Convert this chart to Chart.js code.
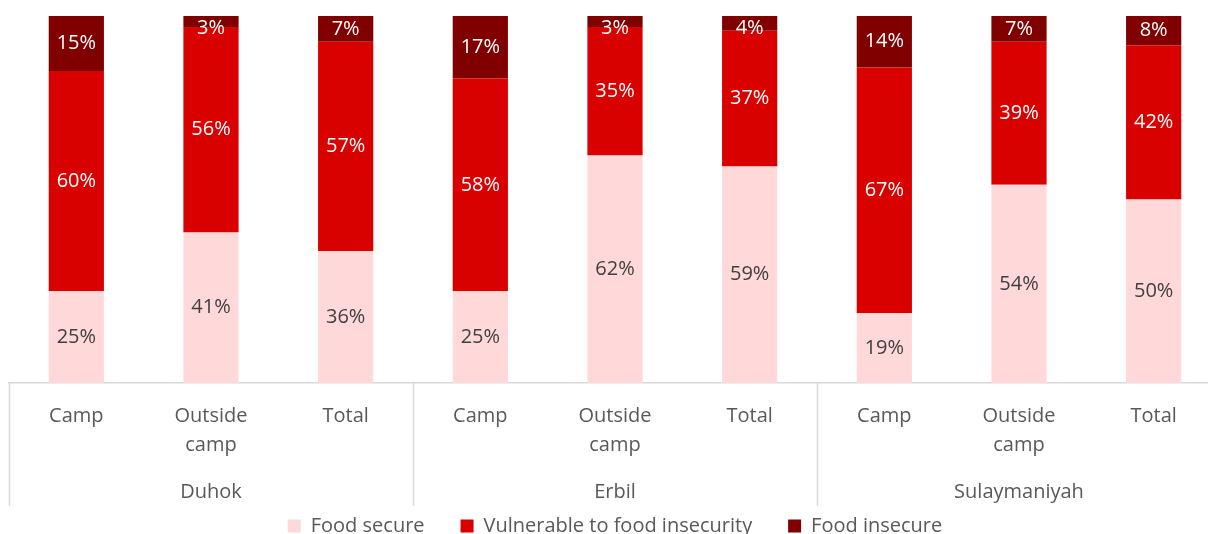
<!DOCTYPE html>
<html>
<head>
<meta charset="utf-8">
<script src="https://cdn.jsdelivr.net/npm/chart.js@4/dist/chart.umd.min.js"></script>
<style>
  html, body { margin: 0; padding: 0; background: #fff; overflow: hidden; }
  #wrap { width: 1208px; height: 534px; overflow: hidden; position: relative; }
</style>
</head>
<body>
<div id="wrap">
  <canvas id="chart" width="1230" height="546"></canvas>
</div>
<script>
const categories = [
	['Camp'], ['Outside', 'camp'], ['Total'],
	['Camp'], ['Outside', 'camp'], ['Total'],
	['Camp'], ['Outside', 'camp'], ['Total'],
];
const groups = ['Duhok', 'Erbil', 'Sulaymaniyah'];
const groupSize = 3;

const foodSecure = [25, 41, 36, 25, 62, 59, 19, 54, 50];
const vulnerable = [60, 56, 57, 58, 35, 37, 67, 39, 42];
const foodInsecure = [15, 3, 7, 17, 3, 4, 14, 7, 8];

const seriesNames = ['Food secure', 'Vulnerable to food insecurity', 'Food insecure'];
const seriesColors = ['#FFD9D9', '#D90000', '#800000'];
const labelColors = ['#404040', '#ffffff', '#ffffff'];

const fontFamily = '"Open Sans", "Liberation Sans", sans-serif';
const gridColor = '#D9D9D9';
const textColor = '#595959';

// draws value labels inside each segment
const valueLabels = {
	id: 'valueLabels',
	afterDatasetsDraw(chart) {
		const { ctx } = chart;
		ctx.save();
		ctx.font = '20px ' + fontFamily;
		ctx.textAlign = 'center';
		ctx.textBaseline = 'middle';
		chart.data.datasets.forEach((ds, di) => {
			const meta = chart.getDatasetMeta(di);
			meta.data.forEach((bar, i) => {
				const v = ds.data[i];
				let cy = (bar.y + bar.base) / 2;
				// small top segments: label sits near the top
				if (di === 2 && v < 6) {
					cy = bar.y + 12;
				}
				ctx.fillStyle = labelColors[di];
				ctx.fillText(v + '%', bar.x, cy);
			});
		});
		ctx.restore();
	},
};

// second level of the category axis: group separators and names
const groupAxis = {
	id: 'groupAxis',
	afterDraw(chart) {
		const { ctx } = chart;
		const x = chart.scales.x;
		const step = x.getPixelForValue(1) - x.getPixelForValue(0);
		ctx.save();
		ctx.strokeStyle = gridColor;
		ctx.lineWidth = 1.5;
		for (let g = 0; g <= groups.length; g++) {
			const px = Math.round(x.getPixelForValue(g * groupSize) - step / 2) + 0.5;
			ctx.beginPath();
			ctx.moveTo(px, x.top);
			ctx.lineTo(px, x.bottom);
			ctx.stroke();
		}
		ctx.fillStyle = textColor;
		ctx.font = '20px ' + fontFamily;
		ctx.textAlign = 'center';
		ctx.textBaseline = 'middle';
		groups.forEach((name, g) => {
			const cx = x.getPixelForValue(g * groupSize + 1);
			ctx.fillText(name, cx, x.top + 109);
		});
		ctx.restore();
	},
};

new Chart(document.getElementById('chart'), {
	type: 'bar',
	data: {
		labels: categories,
		datasets: [
			{ label: seriesNames[0], data: foodSecure, backgroundColor: seriesColors[0] },
			{ label: seriesNames[1], data: vulnerable, backgroundColor: seriesColors[1] },
			{ label: seriesNames[2], data: foodInsecure, backgroundColor: seriesColors[2] },
		],
	},
	options: {
		responsive: false,
		animation: false,
		events: [],
		datasets: {
			bar: { categoryPercentage: 1, barPercentage: 0.41 },
		},
		layout: { padding: { top: 16, left: 9, right: 9, bottom: 0 } },
		scales: {
			x: {
				stacked: true,
				grid: { display: false, drawTicks: false },
				border: { color: gridColor, width: 1.5 },
				ticks: {
					autoSkip: false,
					maxRotation: 0,
					padding: 19,
					color: textColor,
					font: { family: fontFamily, size: 20, lineHeight: 1.45 },
				},
				afterFit(scale) {
					scale.height = 123;
				},
			},
			y: {
				stacked: true,
				display: false,
				min: 0,
				max: 100,
			},
		},
		plugins: {
			tooltip: { enabled: false },
			legend: {
				position: 'bottom',
				labels: {
					boxWidth: 13,
					boxHeight: 13,
					padding: 10,
					color: textColor,
					font: { family: fontFamily, size: 20 },
					// wider gaps between items without a taller legend
					generateLabels(chart) {
						const items = Chart.defaults.plugins.legend.labels.generateLabels(chart);
						items.forEach((item, i) => {
							if (i < items.length - 1) item.text += '     ';
						});
						return items;
					},
				},
			},
		},
	},
	plugins: [valueLabels, groupAxis],
});
</script>
</body>
</html>
